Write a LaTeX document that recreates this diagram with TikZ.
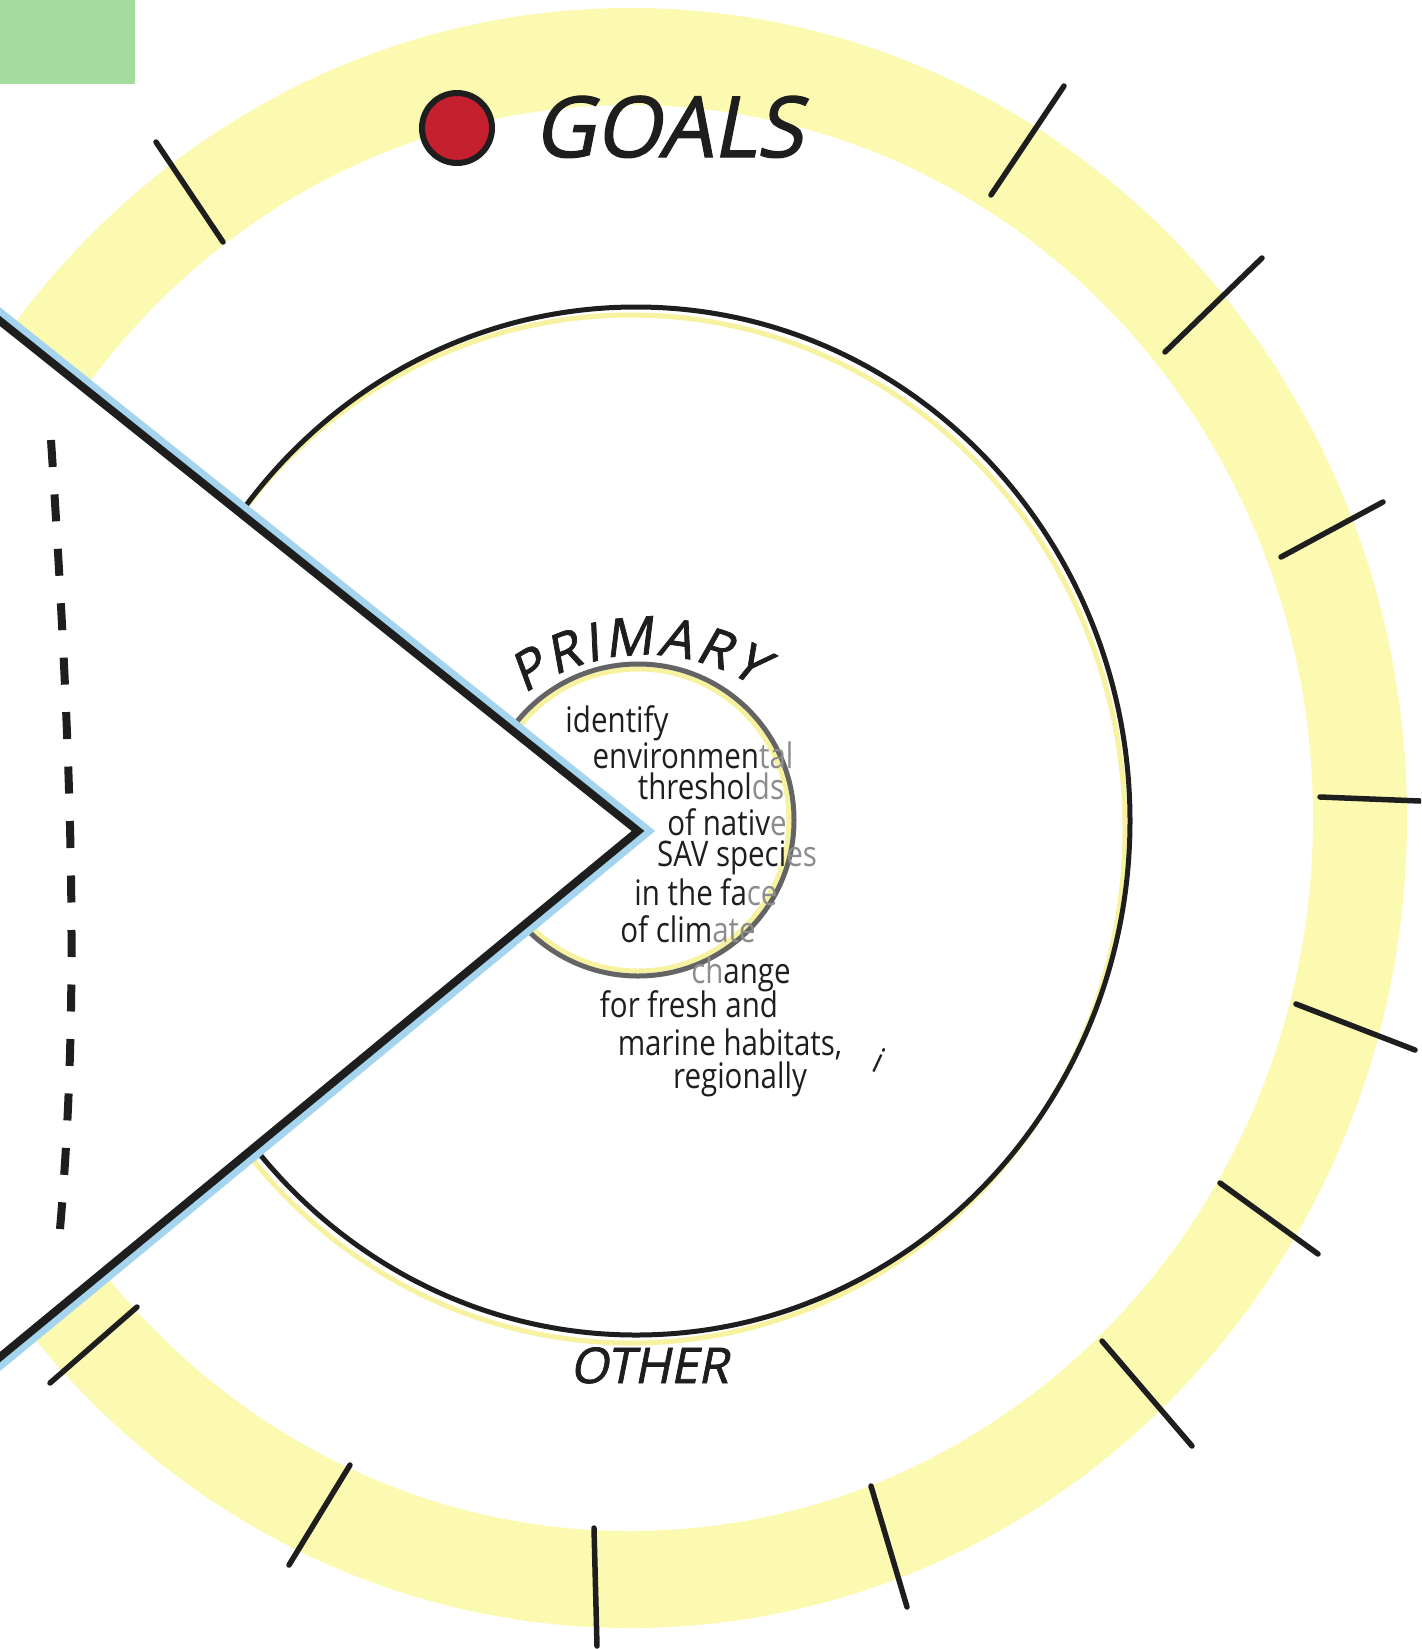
\documentclass[tikz,border=0pt]{standalone}
\usepackage{fontspec}
\usetikzlibrary{decorations.text}
\newfontfamily\markfont[FakeSlant=0.2, FakeBold=1.5]{Open Sans}
\newfontfamily\handfont[FakeStretch=0.84]{Open Sans}
\definecolor{ringyellow}{RGB}{252,249,176}
\definecolor{glowyellow}{RGB}{246,242,160}
\definecolor{tabgreen}{RGB}{164,219,158}
\definecolor{armblue}{RGB}{165,212,238}
\definecolor{goalred}{RGB}{196,32,48}
\definecolor{ink}{RGB}{30,30,30}
\definecolor{inkgray}{RGB}{140,140,140}
\definecolor{circgray}{RGB}{100,100,100}
\begin{document}
\begin{tikzpicture}[x=0.1mm, y=-0.1mm,
  ringtick/.style={line width=0.55mm, draw=ink, line cap=round},
  armline/.style={line width=0.8mm, draw=ink, line join=miter},
  glow/.style={line width=0.5mm, draw=glowyellow},
  capsword/.style={font=\markfont\fontsize{14}{14}\selectfont, text=ink, inner sep=0pt, anchor=base},
  hand/.style={font=\handfont\fontsize{10}{10}\selectfont, text=ink, inner sep=0pt, anchor=base}]
\useasboundingbox (0,0) rectangle (1421,1649);
\clip (0,0) rectangle (1421,1649);
\coordinate (ringc) at (630,818);
\coordinate (midc) at (636,821);
\coordinate (innc) at (638,820);
\coordinate (primc) at (645,860);
\coordinate (tip) at (638,831);
\coordinate (armtop) at (-40,289);
\coordinate (armbot) at (-40,1390);
\coordinate (dashtop) at (51,440);
\coordinate (dashbot) at (60,1229);

% corner tab
\fill[tabgreen] (0,0) rectangle (135,84);

% outer ring and its ticks
\fill[ringyellow, even odd rule] (ringc) ellipse[x radius=777, y radius=810]
  (ringc) ellipse[x radius=683, y radius=713];
\foreach \xa/\ya/\xb/\yb in {156/142/223/242, 1064/86/991/195, 1262/258/1165/352,
  1383/502/1281/557, 1320/797/1420/801, 1296/1004/1415/1050, 1220/1183/1318/1254,
  1102/1341/1192/1446, 871/1486/907/1607, 594/1528/597/1646, 350/1465/289/1565,
  137/1307/50/1383}
  \draw[ringtick] (\xa,\ya) -- (\xb,\yb);

% middle and inner circles
\draw[glow] ([shift={(-5,8)}]midc) ellipse[x radius=494, y radius=514];
\draw[line width=0.5mm, ink] (midc) ellipse[x radius=494, y radius=514];
\draw[glow] (innc) circle[radius=151];
\draw[line width=0.5mm, circgray] (innc) circle[radius=156];

% cut-out wedge
\fill[white] (tip) -- (armtop) -- (armbot) -- cycle;
\draw[armblue, line width=0.9mm, transform canvas={xshift=1.0mm}] (armtop) -- (tip) -- (armbot);
\draw[armline] (armtop) -- (tip) -- (armbot);
\draw[ink, line width=0.8mm, dash pattern=on 2.7mm off 2.75mm]
  (dashtop) .. controls (72,760) and (80,1000) .. (dashbot);

% labels
\node[circle, draw=ink, line width=0.6mm, fill=goalred, minimum size=7mm, inner sep=0pt] (goaldot) at (457,128) {};
\node[capsword, font=\markfont\fontsize{24}{24}\selectfont] (goals) at (668,157) {GOALS};
\path[decorate, decoration={text along path, text align=fit to path, text color=ink,
  text={|\markfont\fontsize{15}{15}\selectfont|PRIMARY}}]
  (primc) ++(-126:205) arc[start angle=-126, end angle=-58, radius=205];
\node[capsword] (other) at (649,1383) {OTHER};

% aim text
\foreach \n/\x/\y/\txt in {1/617/732/{identify},
  2/693/768/{environmen{\color{inkgray}tal}},
  3/711/799/{threshol{\color{inkgray}ds}},
  4/727/835/{of nativ{\color{inkgray}e}},
  5/737/866/{SAV speci{\color{inkgray}es}},
  6/706/905/{in the fa{\color{inkgray}ce}},
  7/688/942/{of clim{\color{inkgray}ate}},
  8/741/983/{{\color{inkgray}ch}ange},
  9/689/1017/{for fresh and},
  10/730/1055/{marine habitats,},
  11/740/1088/{regionally}}
  \node[hand] (aim\n) at (\x,\y) {\txt};
\node[hand, rotate=-25] (aimmark) at (874,1072) {i};
\end{tikzpicture}
\end{document}
